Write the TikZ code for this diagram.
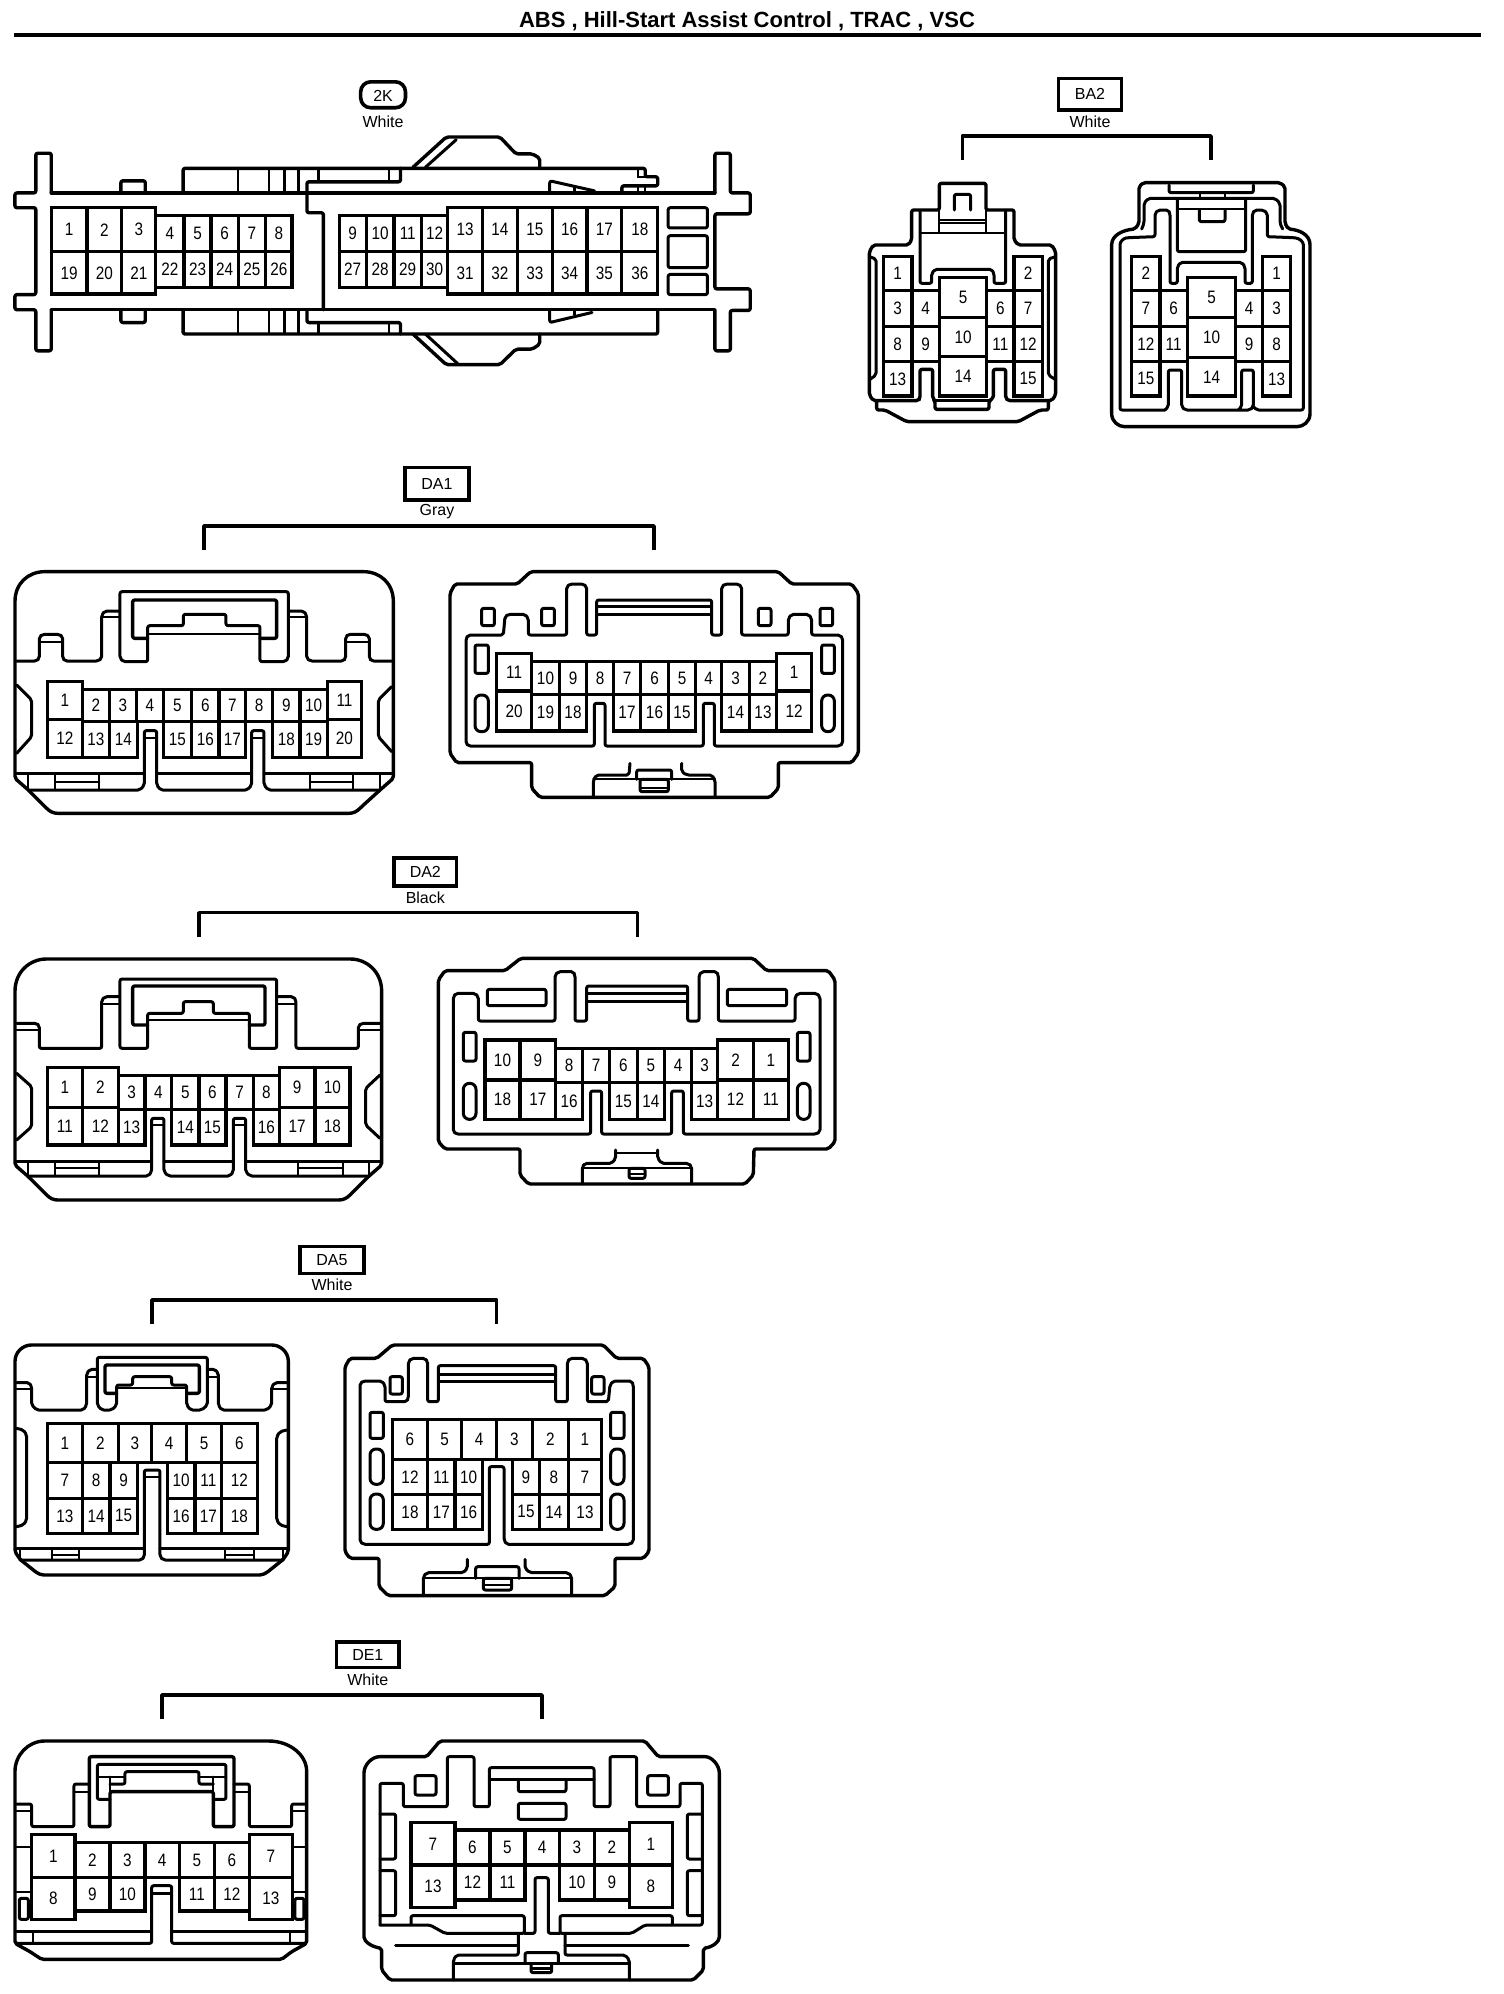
\documentclass[tikz,border=0pt]{standalone}
\usepackage{fontspec}
\setmainfont{Liberation Sans}
\newfontfamily\pinfont[FakeStretch=0.85]{Liberation Sans}
\usetikzlibrary{calc}
\tikzset{
 z/.style 2 args={shift={(#1pt,-#2pt)},x=.33333pt,y=-.33333pt},
 ol/.style={draw=black,line width=3.4pt,line join=round,line cap=round,rounded corners=2pt},
 il/.style={draw=black,line width=3pt,line join=round,line cap=round,rounded corners=2pt},
 th/.style={draw=black,line width=2.3pt,line cap=round},
 cl/.style={draw=black,line width=3.2pt,line join=miter},
 pinlab/.style={font=\pinfont\fontsize{18}{18}\selectfont,inner sep=0pt},
 taglab/.style={font=\fontsize{16}{16}\selectfont,inner sep=0pt},
 brk/.style={draw=black,line width=3.6pt,line join=round},
}
\newcommand\cpre{x}
\newcommand\pincell[5]{\draw[cl] (#2,#3) rectangle (#4,#5);
 \node[pinlab] (\cpre-#1) at ($(#2,#3)!.5!(#4,#5)$) {#1};}
\newcommand\pinrow[3]{\foreach \pn/\pa/\pb in {#3}{\pincell{\pn}{\pa}{#1}{\pb}{#2}}}
% name, x1,y1,x2,y2, text, colour, colour y
\newcommand\tagbox[8]{\draw[draw=black,line width=3.2pt] (#2,#3) rectangle (#4,#5);
 \node[taglab] (#1-tag) at ($(#2,#3)!.5!(#4,#5)$) {#6};
 \node[taglab] (#1-col) at ($(#2,#8)!.5!(#4,#8)$) {#7};}
% name, xL, xR, ytop, ybottom
\newcommand\bracket[5]{\coordinate (#1-L) at (#2,#5); \coordinate (#1-R) at (#3,#5);
 \draw[brk] (#1-L) -- (#2,#4) -| (#1-R);}
\begin{document}
\begin{tikzpicture}[x=1pt,y=1pt]
\useasboundingbox (0pt,0pt) rectangle (1504pt,-1994pt);
\node[font=\bfseries\fontsize{22}{22}\selectfont,inner sep=0pt] (title) at (747pt,-21.5pt) {ABS , Hill-Start Assist Control , TRAC , VSC};
\coordinate (ruleL) at (14pt,-35pt); \coordinate (ruleR) at (1481pt,-35pt);
\draw[draw=black,line width=4.4pt] (ruleL) -- (ruleR);

%% ---------- 2K
\begin{scope}[shift={(0pt,0pt)},x=.4975pt,y=-.3367pt]
\renewcommand\cpre{k}
\draw[draw=black,line width=3.6pt,rounded corners=10pt] (725,243) rectangle (815,320);
\node[taglab] (k-tag) at (770,285) {2K};
\node[taglab] (k-col) at (770,362) {White};
\draw[ol] (103,573) -- (103,455) -- (72,455) -- (72,573) -- (30,573) -- (30,617) -- (72,617) -- (72,875) -- (30,875) -- (30,920) -- (72,920) -- (72,1042) -- (103,1042) -- (103,920);
\draw[ol] (1437,573) -- (1437,455) -- (1468,455) -- (1468,573) -- (1508,573) -- (1508,635) -- (1437,635) -- (1437,858) -- (1508,858) -- (1508,922) -- (1468,922) -- (1468,1042) -- (1437,1042) -- (1437,922);
\draw[ol] (103,573) -- (1437,573);
\draw[ol] (103,920) -- (1437,920);
\draw[ol] (243,573) -- (243,537) -- (292,537) -- (292,573);
\draw[ol] (243,920) -- (243,958) -- (292,958) -- (292,920);
\draw[ol] (617,573) -- (617,632) -- (650,632) -- (650,920);
\draw[ol] (617,573) -- (617,540) -- (805,540) -- (805,500);
\draw[ol] (368,573) -- (368,500) -- (1297,500) -- (1297,525) -- (1322,525) -- (1322,552) -- (1250,552) -- (1250,573);
\foreach \vx in {478,541,572,600} {\draw[th] (\vx,500) -- (\vx,573); \draw[th] (\vx,920) -- (\vx,992);}
\draw[th] (640,500) -- (640,540); \draw[th] (782,500) -- (782,540);
\draw[th] (1283,500) -- (1283,525) -- (1297,525); \draw[th] (1283,552) -- (1283,573); \draw[th] (1297,552) -- (1297,573);
\draw[il] (1105,573) -- (1105,537) -- (1195,567); \draw[th] (1155,555) -- (1155,573);
\draw[ol] (830,497) -- (897,407) -- (1005,407) -- (1037,457) -- (1070,457) -- (1085,470) -- (1085,497);
\draw[il] (855,497) -- (917,415);
\draw[ol] (368,920) -- (368,992) -- (1322,992) -- (1322,920);
\draw[ol] (617,920) -- (617,958) -- (805,958) -- (805,992);
\draw[th] (640,958) -- (640,992); \draw[th] (782,958) -- (782,992);
\draw[il] (1105,922) -- (1105,958) -- (1190,928); \draw[th] (1155,935) -- (1155,922);
\draw[ol] (830,992) -- (897,1083) -- (1005,1083) -- (1037,1037) -- (1070,1037) -- (1085,1022) -- (1085,992);
\draw[il] (855,992) -- (920,1080);
\pinrow{640}{748}{4/313/370,5/370/424,6/424/479,7/479/534,8/534/587,9/682/736,10/736/792,11/792/847,12/847/900}
\pinrow{748}{853}{22/313/370,23/370/424,24/424/479,25/479/534,26/534/587,27/682/736,28/736/792,29/792/847,30/847/900}
\pinrow{617}{748}{1/103/175,2/175/245,3/245/313,13/900/970,14/970/1040,15/1040/1110,16/1110/1180,17/1180/1250,18/1250/1322}
\pinrow{748}{873}{19/103/175,20/175/245,21/245/313,31/900/970,32/970/1040,33/1040/1110,34/1110/1180,35/1180/1250,36/1250/1322}
\draw[il] (1343,617) rectangle (1422,677); \draw[il] (1343,700) rectangle (1422,795); \draw[il] (1343,815) rectangle (1422,875);
\end{scope}

%% ---------- BA2
\begin{scope}[z={840}{60}]
\tagbox{ba2}{655}{55}{845}{150}{BA2}{White}{185}
\bracket{ba2}{367}{1113}{228}{300}
% left
\renewcommand\cpre{ba2l}
\draw[ol] (88,590) -- (88,1005) -- (100,1022) -- (235,1022) -- (240,1015) -- (240,928) -- (278,928) -- (278,1015) -- (285,1022) -- (285,1048) -- (447,1048) -- (447,1022) -- (460,1015) -- (460,928) -- (497,928) -- (497,1015) -- (505,1022) -- (635,1022) -- (647,1005) -- (647,575) -- (635,555) -- (535,555) -- (522,540) -- (522,450) -- (438,450) -- (438,370) -- (298,370) -- (298,450) -- (215,450) -- (215,540) -- (205,555) -- (100,555) -- (88,575) -- cycle;
\draw[ol] (110,1025) -- (110,1050) -- (135,1050) -- (200,1085) -- (535,1085) -- (600,1050) -- (625,1050) -- (625,1025);
\draw[ol] (285,1022) -- (447,1022);
\draw[il] (88,590) -- (108,597) -- (108,945) -- (90,958);
\draw[il] (647,590) -- (625,597) -- (625,945) -- (645,958);
\draw[il] (240,455) -- (240,670) -- (275,670) -- (275,640) -- (285,628) -- (455,628) -- (462,640) -- (462,670) -- (497,670) -- (497,455);
\draw[th] (240,518) -- (497,518);
\draw[th] (298,450) -- (298,518); \draw[th] (438,450) -- (438,518);
\draw[th] (298,480) -- (438,480); \draw[th] (298,490) -- (438,490);
\draw[il] (343,450) -- (343,403) -- (392,403) -- (392,450);
\pinrow{590}{692}{1/130/216,2/522/607}
\pinrow{692}{800}{3/130/216,4/216/298,6/440/522,7/522/607}
\pinrow{800}{905}{8/130/216,9/216/298,11/440/522,12/522/607}
\pinrow{905}{1008}{13/130/216,15/522/607}
\pinrow{652}{772}{5/298/440}
\pinrow{772}{890}{10/298/440}
\pinrow{890}{1008}{14/298/440}
% right
\renewcommand\cpre{ba2r}
\draw[ol] (815,560) .. controls (815,525) and (850,510) .. (885,507) -- (897,490) -- (897,380) -- (910,368) -- (1320,368) -- (1335,380) -- (1335,490) -- (1345,507) .. controls (1380,510) and (1410,525) .. (1410,560) -- (1410,1055) .. controls (1410,1085) and (1390,1100) .. (1365,1100) -- (860,1100) .. controls (835,1100) and (815,1085) .. (815,1055) -- cycle;
\draw[il] (905,507) -- (912,490) -- (912,430) -- (925,415) -- (1305,415) -- (1320,430) -- (1320,490) -- (1328,507);
\draw[il] (975,1050) -- (985,1040) -- (985,930) -- (1025,930) -- (1025,1040) -- (1035,1050) -- (1230,1050) -- (1240,1040) -- (1240,930) -- (1205,930) -- (1205,1040) -- (1195,1050);
\draw[il] (975,1050) -- (840,1050) -- (840,560) .. controls (840,545) and (850,535) .. (865,533) -- (945,530) -- (945,460) -- (955,450) -- (985,450) -- (990,460) -- (990,670) -- (1012,670) -- (1012,620) -- (1022,607) -- (1205,607) -- (1215,620) -- (1215,670) -- (1237,670) -- (1237,460) -- (1245,450) -- (1270,450) -- (1282,460) -- (1282,530) -- (1360,533) .. controls (1378,535) and (1390,545) .. (1390,560) -- (1390,1050) -- (1250,1050) -- (1240,1040);
\draw[il] (1012,420) -- (1012,575) -- (1217,575) -- (1217,420);
\draw[th] (1012,448) -- (1217,448);
\draw[il] (987,375) -- (987,398) -- (1240,398) -- (1240,375);
\draw[th] (1080,398) -- (1080,415); \draw[th] (1155,398) -- (1155,415);
\draw[il] (1078,450) -- (1078,485) -- (1155,485) -- (1155,450);
\pinrow{590}{692}{2/875/960,1/1268/1352}
\pinrow{692}{800}{7/875/960,6/960/1042,4/1187/1268,3/1268/1352}
\pinrow{800}{905}{12/875/960,11/960/1042,9/1187/1268,8/1268/1352}
\pinrow{905}{1008}{15/875/960,13/1268/1352}
\pinrow{652}{772}{5/1042/1187}
\pinrow{772}{893}{10/1042/1187}
\pinrow{893}{1008}{14/1042/1187}
\end{scope}

%% ---------- DA1
\begin{scope}[z={0}{460}]
\tagbox{da1}{1215}{22}{1407}{120}{DA1}{Gray}{155}
\bracket{da1}{612}{1962}{198}{270}
\renewcommand\cpre{da1l}
\draw[ol] (45,955) -- (45,430) .. controls (45,370) and (85,335) .. (140,335) -- (1085,335) .. controls (1140,335) and (1180,370) .. (1180,430) -- (1180,955) -- (1140,990) -- (1085,1040) .. controls (1070,1055) and (1060,1060) .. (1040,1060) -- (180,1060) .. controls (160,1060) and (150,1055) .. (135,1040) -- (85,990) -- cycle;
\draw[il] (50,603) -- (110,603) -- (118,595) -- (118,530) -- (128,523) -- (178,523) -- (188,530) -- (188,595) -- (195,603) -- (295,603) -- (305,595) -- (305,465) -- (315,453) -- (358,453);
\draw[th] (118,545) -- (188,545); \draw[th] (310,472) -- (358,472);
\draw[il] (1175,603) -- (1115,603) -- (1108,595) -- (1108,530) -- (1098,523) -- (1045,523) -- (1037,530) -- (1037,595) -- (1030,603) -- (930,603) -- (920,595) -- (920,465) -- (910,453) -- (868,453);
\draw[th] (1037,545) -- (1108,545); \draw[th] (920,472) -- (868,472);
\draw[il] (360,395) -- (865,395) -- (865,595) -- (855,605) -- (780,605) -- (780,497) -- (678,497) -- (678,463) -- (550,463) -- (550,497) -- (443,497) -- (443,605) -- (370,605) -- (360,595) -- cycle;
\draw[ol] (443,535) -- (398,535) -- (398,420) -- (830,420) -- (830,535) -- (780,535);
\draw[th] (443,522) -- (780,522);
\pinrow{688}{785}{2/247/328,3/328/410,4/410/490,5/490/575,6/575/657,7/657/737,8/737/818,9/818/900,10/900/982}
\pinrow{785}{893}{13/247/328,14/328/412,15/490/575,16/575/657,17/657/737,18/818/900,19/900/982}
\pinrow{665}{778}{1/142/247,11/982/1085}
\pinrow{778}{893}{12/142/247,20/982/1085}
\draw[il] (85,990) -- (420,990) -- (433,975) -- (433,812) -- (470,812) -- (470,975) -- (482,990) -- (742,990) -- (755,975) -- (755,812) -- (792,812) -- (792,975) -- (805,990) -- (1140,990);
\draw[il] (50,940) -- (433,940); \draw[il] (470,940) -- (755,940); \draw[il] (792,940) -- (1175,940);
\draw[th] (433,835) -- (470,835); \draw[th] (755,835) -- (792,835);
\foreach \vx in {85,165,298,930,1060,1140} {\draw[th] (\vx,940) -- (\vx,990);}
\draw[th] (165,965) -- (298,965); \draw[th] (930,965) -- (1060,965);
\draw[il] (50,675) -- (95,720) -- (95,830) -- (50,880);
\draw[il] (1175,680) -- (1135,720) -- (1135,830) -- (1175,875);
\end{scope}
\begin{scope}[z={430}{460}]
\renewcommand\cpre{da1r}
\draw[ol] (60,400) -- (75,372) -- (262,372) -- (302,335) -- (1045,335) -- (1085,372) -- (1265,372) -- (1285,400) -- (1285,880) -- (1265,908) -- (1045,908) -- (1045,985) -- (1020,1012) -- (330,1012) -- (305,985) -- (305,908) -- (80,908) -- (60,880) -- cycle;
\draw[il] (108,535) -- (115,525) -- (220,525) -- (225,470) -- (235,463) -- (285,463) -- (295,475) -- (295,525) -- (410,525) -- (410,380) -- (420,372) -- (460,372) -- (470,380) -- (470,525) -- (500,525) -- (500,420) -- (845,420) -- (845,525) -- (875,525) -- (875,380) -- (885,372) -- (925,372) -- (935,380) -- (935,525) -- (1075,525) -- (1075,475) -- (1085,463) -- (1135,463) -- (1145,475) -- (1145,525) -- (1230,525) -- (1238,535) -- (1238,850) -- (1230,858) -- (853,858) -- (853,730) -- (820,730) -- (820,858) -- (525,858) -- (525,730) -- (493,730) -- (493,858) -- (115,858) -- (108,850) -- cycle;
\draw[il] (500,440) -- (845,440); \draw[il] (500,463) -- (845,463);
\foreach \rx in {155,335,985,1170} {\draw[il] (\rx,445) rectangle ++(38,52);}
\draw[il] (135,555) rectangle (175,640); \draw[il] (1175,555) rectangle (1213,640);
\draw[il,rounded corners=6pt] (135,705) rectangle (175,815); \draw[il,rounded corners=6pt] (1175,705) rectangle (1213,815);
\pinrow{605}{703}{10/305/388,9/388/470,8/470/550,7/550/632,6/632/715,5/715/797,4/797/875,3/875/958,2/958/1040}
\pinrow{703}{813}{19/305/388,18/388/470,17/550/632,16/632/715,15/715/797,14/875/958,13/958/1040}
\pinrow{580}{693}{11/200/305,1/1040/1145}
\pinrow{693}{813}{20/200/305,12/1040/1145}
\draw[il] (600,910) -- (597,945) -- (580,945) -- (500,945) -- (490,960) -- (490,1012);
\draw[il] (755,910) -- (755,935) -- (770,945) -- (845,945) -- (855,960) -- (855,1012);
\draw[th] (490,958) -- (855,958);
\draw[il] (620,958) -- (620,930) -- (725,930) -- (725,958);
\draw[il] (630,958) rectangle (715,995); \draw[th] (630,985) -- (715,985);
\end{scope}

%% ---------- DA2
\begin{scope}[z={0}{860}]
\tagbox{da2}{1182}{-6}{1370}{78}{DA2}{Black}{112}
\bracket{da2}{597}{1912}{158}{230}
\renewcommand\cpre{da2l}
\draw[ol] (45,915) -- (45,400) .. controls (45,335) and (90,297) .. (145,297) -- (1045,297) .. controls (1100,297) and (1145,335) .. (1145,400) -- (1145,915) -- (1105,950) -- (1055,1000) .. controls (1040,1015) and (1030,1020) .. (1010,1020) -- (180,1020) .. controls (160,1020) and (150,1015) .. (135,1000) -- (85,950) -- cycle;
\draw[il] (50,490) -- (110,490) -- (118,497) -- (118,565) -- (305,565) -- (305,420) -- (315,410) -- (358,410);
\draw[th] (50,510) -- (118,510); \draw[th] (310,432) -- (358,432);
\draw[il] (1140,490) -- (1085,490) -- (1075,497) -- (1075,565) -- (888,565) -- (888,420) -- (880,410) -- (833,410);
\draw[th] (1075,510) -- (1140,510); \draw[th] (888,432) -- (833,432);
\draw[il] (360,357) -- (830,357) -- (830,565) -- (748,565) -- (748,460) -- (640,460) -- (640,425) -- (550,425) -- (550,460) -- (443,460) -- (443,565) -- (360,565) -- cycle;
\draw[ol] (443,495) -- (398,495) -- (398,378) -- (795,378) -- (795,495) -- (748,495);
\draw[th] (443,480) -- (748,480);
\pinrow{647}{748}{3/355/435,4/435/515,5/515/597,6/597/678,7/678/760,8/760/838}
\pinrow{748}{855}{13/355/435,14/515/597,15/597/678,16/760/838}
\pinrow{622}{742}{1/142/247,2/247/355,9/838/945,10/945/1050}
\pinrow{742}{855}{11/142/247,12/247/355,17/838/945,18/945/1050}
\draw[il] (85,948) -- (445,948) -- (455,935) -- (455,775) -- (492,775) -- (492,935) -- (505,948) -- (690,948) -- (700,935) -- (700,775) -- (737,775) -- (737,935) -- (750,948) -- (1105,948);
\draw[il] (50,905) -- (455,905); \draw[il] (492,905) -- (700,905); \draw[il] (737,905) -- (1140,905);
\draw[th] (455,795) -- (492,795); \draw[th] (700,795) -- (737,795);
\foreach \vx in {85,165,298,895,1028,1108} {\draw[th] (\vx,905) -- (\vx,948);}
\draw[th] (165,925) -- (298,925); \draw[th] (895,925) -- (1028,925);
\draw[il] (50,640) -- (95,680) -- (95,800) -- (50,840);
\draw[il] (1140,645) -- (1097,685) -- (1097,795) -- (1140,835);
\end{scope}
\begin{scope}[z={420}{860}]
\renewcommand\cpre{da2r}
\draw[ol] (55,360) -- (75,332) -- (255,332) -- (302,295) -- (1000,295) -- (1040,332) -- (1225,332) -- (1245,360) -- (1245,845) -- (1225,867) -- (1002,867) -- (1000,945) -- (975,972) -- (325,972) -- (300,945) -- (300,867) -- (75,867) -- (55,845) -- cycle;
\draw[il] (100,410) -- (108,400) -- (165,400) -- (175,410) -- (175,483) -- (405,483) -- (405,345) -- (415,335) -- (460,335) -- (465,345) -- (465,483) -- (500,483) -- (500,378) -- (803,378) -- (803,483) -- (837,483) -- (837,345) -- (845,335) -- (890,335) -- (895,345) -- (895,483) -- (1125,483) -- (1125,410) -- (1135,400) -- (1190,400) -- (1200,410) -- (1200,815) -- (1190,822) -- (790,822) -- (790,693) -- (755,693) -- (755,822) -- (545,822) -- (545,693) -- (512,693) -- (512,822) -- (108,822) -- (100,815) -- cycle;
\draw[il] (500,400) -- (803,400); \draw[il] (500,425) -- (803,425);
\draw[il] (202,388) rectangle (378,437); \draw[il] (922,388) rectangle (1100,437);
\draw[il] (130,517) rectangle (168,603); \draw[il] (1132,517) rectangle (1170,603);
\draw[il,rounded corners=6pt] (130,670) rectangle (168,778); \draw[il,rounded corners=6pt] (1132,670) rectangle (1170,778);
\pinrow{565}{668}{8/407/488,7/488/568,6/568/652,5/652/733,4/733/815,3/815/893}
\pinrow{668}{778}{16/407/488,15/568/652,14/652/733,13/815/893}
\pinrow{540}{660}{10/195/300,9/300/407,2/893/1000,1/1000/1105}
\pinrow{660}{778}{18/195/300,17/300/407,12/893/1000,11/1000/1105}
\draw[il] (587,870) -- (587,895) -- (575,910) -- (495,910) -- (487,920) -- (487,972);
\draw[il] (713,870) -- (713,895) -- (725,910) -- (805,910) -- (815,920) -- (815,972);
\draw[th] (487,925) -- (815,925); \draw[th] (590,880) -- (713,880);
\draw[il] (627,925) rectangle (675,955); \draw[th] (627,942) -- (675,942);
\end{scope}

%% ---------- DA5
\begin{scope}[z={0}{1250}]
\tagbox{da5}{900}{-10}{1092}{70}{DA5}{White}{105}
\bracket{da5}{456}{1490}{150}{222}
\renewcommand\cpre{da5l}
\draw[ol] (45,905) -- (45,340) .. controls (45,305) and (70,285) .. (100,285) -- (810,285) .. controls (840,285) and (865,305) .. (865,340) -- (865,905) -- (850,928) -- (800,968) -- (785,975) -- (125,975) -- (110,968) -- (60,928) -- cycle;
\draw[il] (50,398) -- (88,398) -- (95,410) -- (95,465) -- (110,480) -- (250,480) -- (260,465) -- (260,370) -- (270,358) -- (292,358);
\draw[th] (50,418) -- (95,418); \draw[th] (265,380) -- (292,380);
\draw[il] (860,398) -- (825,398) -- (815,410) -- (815,465) -- (800,480) -- (665,480) -- (655,465) -- (655,370) -- (645,358) -- (622,358);
\draw[th] (815,418) -- (860,418); \draw[th] (650,380) -- (622,380);
\draw[il] (292,322) -- (622,322) -- (622,465) -- (605,480) -- (572,480) -- (560,465) -- (560,405) -- (515,405) -- (515,380) -- (398,380) -- (398,405) -- (350,405) -- (350,465) -- (335,480) -- (305,480) -- (292,465) -- cycle;
\draw[ol] (350,430) -- (315,430) -- (315,345) -- (598,345) -- (598,430) -- (560,430);
\draw[th] (350,415) -- (560,415);
\pinrow{520}{638}{1/142/247,2/247/355,3/355/455,4/455/560,5/560/665,6/665/772}
\pinrow{638}{745}{7/142/247,8/247/330,9/330/412,10/502/585,11/585/665,12/665/772}
\pinrow{745}{850}{13/142/247,14/247/330,15/330/412,16/502/585,17/585/665,18/665/772}
\draw[il] (60,930) -- (425,930) -- (433,920) -- (433,660) -- (480,660) -- (480,920) -- (490,930) -- (850,930);
\draw[il] (50,895) -- (433,895); \draw[il] (480,895) -- (860,895);
\draw[th] (433,680) -- (480,680);
\foreach \vx in {60,155,237,675,762,848} {\draw[th] (\vx,895) -- (\vx,930);}
\draw[th] (155,915) -- (237,915); \draw[th] (675,915) -- (762,915);
\draw[il] (50,535) -- (70,540) -- (80,555) -- (80,810) -- (70,825) -- (50,830);
\draw[il] (860,540) -- (840,545) -- (830,560) -- (830,810) -- (840,825) -- (860,830);
\end{scope}
\begin{scope}[z={330}{1250}]
\renewcommand\cpre{da5r}
\draw[ol] (45,350) -- (60,325) -- (140,325) -- (187,285) -- (820,285) -- (860,325) -- (940,325) -- (957,350) -- (957,905) -- (940,925) -- (855,925) -- (855,1010) -- (825,1037) -- (175,1037) -- (147,1010) -- (147,925) -- (60,925) -- (45,905) -- cycle;
\draw[il] (90,400) -- (100,393) -- (155,393) -- (165,405) -- (165,455) -- (230,455) -- (235,445) -- (235,335) -- (245,325) -- (285,325) -- (293,335) -- (293,455) -- (325,455) -- (325,347) -- (677,347) -- (677,455) -- (712,455) -- (712,335) -- (720,325) -- (762,325) -- (772,335) -- (772,455) -- (835,455) -- (840,405) -- (850,393) -- (905,393) -- (910,405) -- (910,875) -- (900,883) -- (530,883) -- (522,870) -- (522,650) -- (478,650) -- (478,883) -- (100,883) -- (90,875) -- cycle;
\draw[il] (325,372) -- (677,372); \draw[il] (325,395) -- (677,395);
\draw[il] (180,380) rectangle (217,432); \draw[il] (785,380) rectangle (822,432);
\draw[il] (120,487) rectangle (160,565); \draw[il] (842,487) rectangle (882,565);
\foreach \oy in {597,732} {\draw[il,rounded corners=6pt] (120,\oy) rectangle ++(40,106); \draw[il,rounded corners=6pt] (842,\oy) rectangle ++(40,106);}
\pinrow{508}{628}{6/187/293,5/293/395,4/395/500,3/500/607,2/607/715,1/715/815}
\pinrow{628}{733}{12/187/293,11/293/375,10/375/457,9/548/628,8/628/715,7/715/815}
\pinrow{733}{838}{18/187/293,17/293/375,16/375/457,15/548/628,14/628/715,13/715/815}
\draw[il] (412,928) -- (412,955) -- (400,968) -- (290,968) -- (280,980) -- (280,1037);
\draw[il] (585,928) -- (585,955) -- (600,968) -- (715,968) -- (725,980) -- (725,1037);
\draw[th] (280,985) -- (725,985);
\draw[il] (437,985) -- (437,950) -- (567,950) -- (567,985);
\draw[il] (460,985) rectangle (545,1020); \draw[th] (460,1005) -- (545,1005);
\end{scope}

%% ---------- DE1
\begin{scope}[z={0}{1650}]
\tagbox{de1}{1010}{-24}{1197}{52}{DE1}{White}{90}
\bracket{de1}{486}{1626}{135}{207}
\renewcommand\cpre{de1l}
\draw[ol] (45,880) -- (45,370) .. controls (45,315) and (85,273) .. (140,273) -- (800,273) .. controls (870,273) and (920,315) .. (920,370) -- (920,880) -- (875,905) -- (845,928) -- (125,928) -- (90,905) -- cycle;
\draw[il] (50,462) -- (95,462) -- (95,530) -- (222,530) -- (222,402) -- (268,402);
\draw[th] (50,483) -- (95,483); \draw[th] (225,425) -- (268,425);
\draw[il] (917,462) -- (875,462) -- (875,530) -- (748,530) -- (748,402) -- (702,402);
\draw[th] (875,483) -- (917,483); \draw[th] (748,425) -- (702,425);
\draw[ol] (268,320) -- (702,320) -- (702,530) -- (640,530) -- (640,425) -- (330,425) -- (330,530) -- (268,530) -- cycle;
\draw[il] (330,448) -- (292,448) -- (292,343) -- (678,343) -- (678,448) -- (640,448);
\draw[il] (330,402) -- (375,402) -- (375,365) -- (597,365) -- (597,402) -- (640,402);
\draw[th] (297,380) -- (375,380); \draw[th] (597,380) -- (678,380);
\draw[th] (330,380) -- (330,425); \draw[th] (640,380) -- (640,425);
\pinrow{578}{683}{2/225/330,3/330/435,4/435/538,5/538/643,6/643/748}
\pinrow{683}{783}{9/225/330,10/330/435,11/538/643,12/643/748}
\pinrow{553}{683}{1/95/225,7/748/878}
\pinrow{683}{808}{8/95/225,13/748/878}
\draw[il] (50,880) -- (455,880) -- (455,707) -- (515,707) -- (515,880) -- (917,880);
\draw[il] (50,845) -- (455,845); \draw[il] (515,845) -- (917,845);
\draw[th] (455,730) -- (515,730);
\draw[th] (100,845) -- (100,880); \draw[th] (870,845) -- (870,880);
\draw[th] (50,590) -- (95,590); \draw[th] (50,725) -- (95,725); \draw[th] (878,590) -- (917,590); \draw[th] (878,725) -- (917,725);
\draw[il] (58,745) rectangle (85,808); \draw[il] (885,745) rectangle (912,808);
\end{scope}
\begin{scope}[z={350}{1650}]
\renewcommand\cpre{de1r}
\draw[ol] (42,375) .. controls (42,345) and (65,320) .. (95,320) -- (230,320) -- (270,273) -- (885,273) -- (925,320) -- (1060,320) .. controls (1085,320) and (1108,345) .. (1108,375) -- (1108,855) .. controls (1108,875) and (1090,890) .. (1060,895) -- (1060,960) -- (1030,990) -- (120,990) -- (95,960) -- (95,895) .. controls (65,890) and (42,875) .. (42,855) -- cycle;
\draw[il] (90,825) -- (90,400) -- (160,400) -- (160,470) -- (292,470) -- (292,320) -- (372,320) -- (372,470) -- (418,470) -- (418,353) -- (732,353) -- (732,470) -- (780,470) -- (780,320) -- (860,320) -- (860,470) -- (990,470) -- (990,400) -- (1057,400) -- (1057,825) -- (885,825) -- (845,850) -- (630,850) -- (630,797) -- (967,797) -- (967,825);
\draw[il] (90,825) -- (240,825) -- (285,850) -- (523,850) -- (523,797) -- (183,797) -- (183,825);
\draw[il] (523,850) -- (555,850) -- (555,683) -- (595,683) -- (595,850) -- (630,850);
\draw[il] (90,492) -- (137,492) -- (137,627) -- (90,627);
\draw[il] (90,662) -- (137,662) -- (137,797) -- (90,797);
\draw[il] (1057,492) -- (1012,492) -- (1012,627) -- (1057,627);
\draw[il] (1057,662) -- (1012,662) -- (1012,797) -- (1057,797);
\draw[il] (418,388) -- (732,388);
\draw[il] (505,392) -- (505,425) -- (648,425) -- (648,392);
\draw[il] (505,460) rectangle (648,508);
\draw[il] (195,377) rectangle (258,435); \draw[il] (893,377) rectangle (955,435);
\pinrow{540}{645}{6/315/420,5/420/525,4/525/628,3/628/733,2/733/838}
\pinrow{645}{750}{12/315/420,11/420/525,10/628/733,9/733/838}
\pinrow{518}{645}{7/183/315,1/838/967}
\pinrow{645}{772}{13/183/315,8/838/967}
\draw[il] (505,850) -- (505,915) -- (320,915) -- (310,930) -- (310,990);
\draw[il] (645,850) -- (645,915) -- (825,915) -- (838,930) -- (838,990);
\draw[th] (310,940) -- (838,940);
\draw[il] (525,940) -- (525,908) -- (625,908) -- (625,940);
\draw[il] (543,940) -- (543,968) -- (605,968) -- (605,940); \draw[th] (543,955) -- (605,955);
\draw[il] (137,885) -- (505,885); \draw[il] (645,885) -- (1015,885);
\end{scope}
\end{tikzpicture}
\end{document}
